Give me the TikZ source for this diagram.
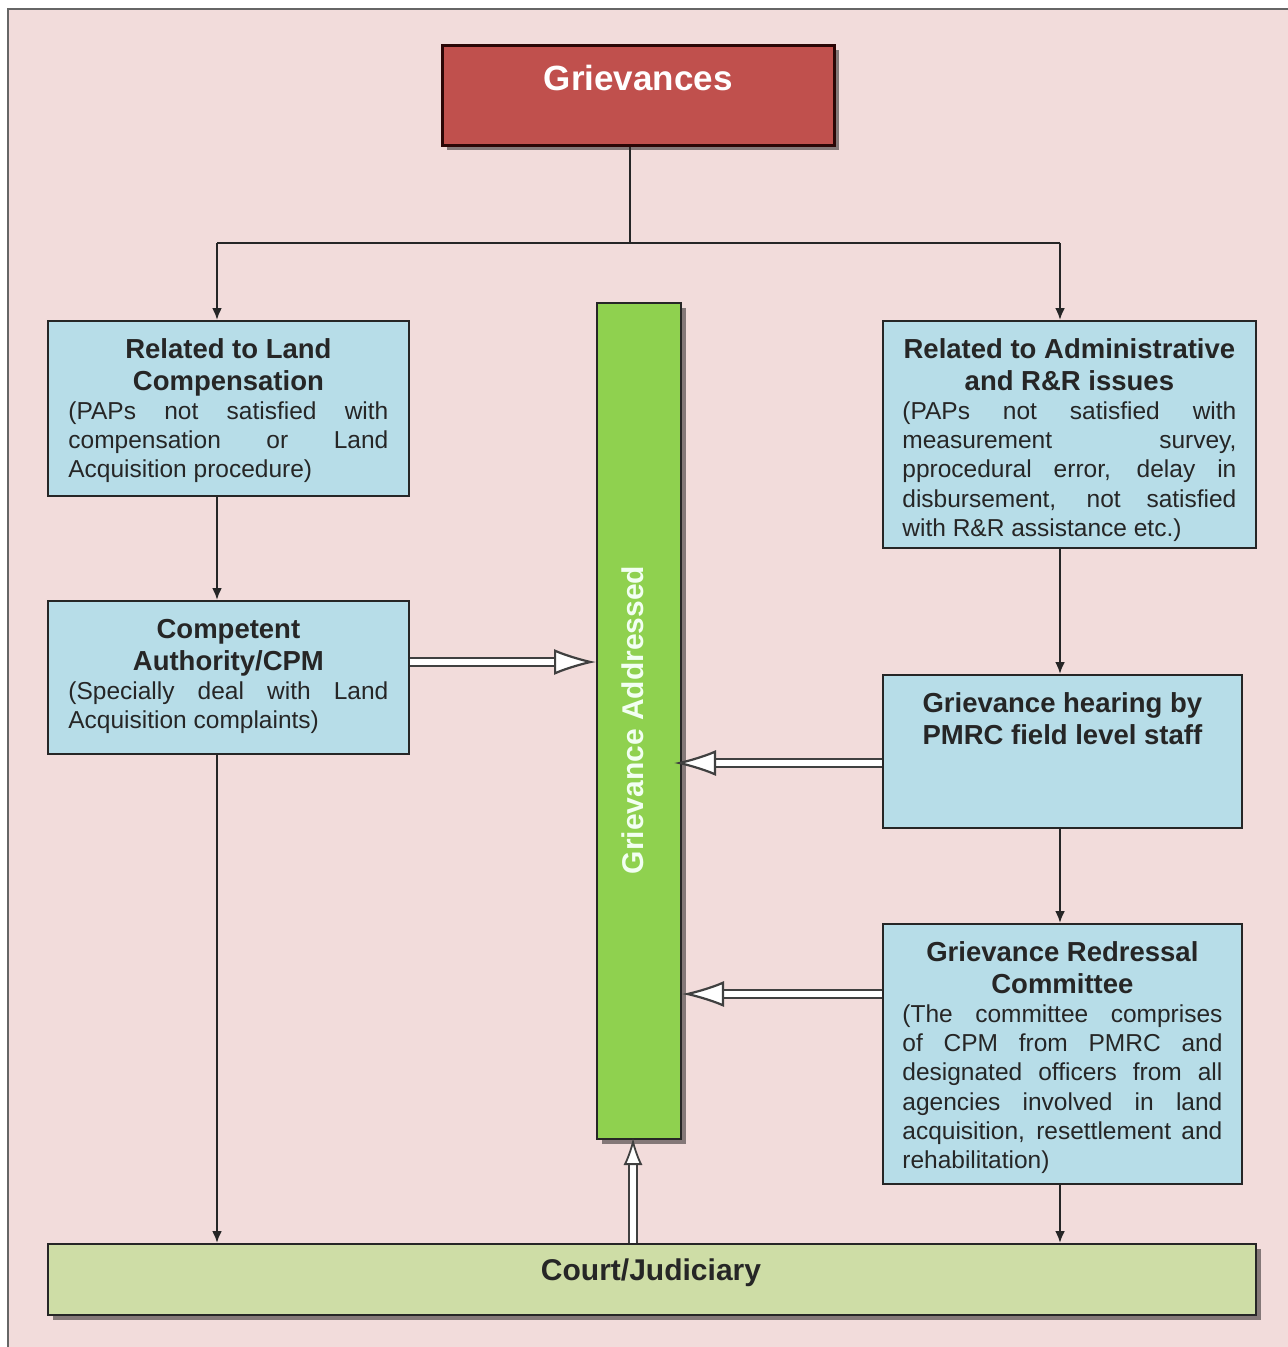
\documentclass[tikz,border=0pt]{standalone}
\usepackage{fontspec}
\setmainfont{Liberation Sans}
\usetikzlibrary{arrows.meta,shadows}
\definecolor{pinkbg}{HTML}{F2DCDB}
\definecolor{redbox}{HTML}{C0504D}
\definecolor{rededge}{HTML}{2A0606}
\definecolor{bluebox}{HTML}{B7DDE8}
\definecolor{greenbar}{HTML}{8FD14F}
\definecolor{courtfill}{HTML}{CEDDA6}
\definecolor{edge}{HTML}{262626}
\newcommand{\boxtitle}{\fontsize{27.5}{32}\selectfont\bfseries}
\newcommand{\boxbody}{\fontsize{24.5}{29.2}\selectfont}
\newcommand{\firstline}{\rule{0pt}{21pt}}
\begin{document}
\begin{tikzpicture}[x=1pt,y=-1pt,
  box/.style={draw=edge, line width=1.8pt, fill=bluebox, anchor=north west, inner sep=0pt},
  txt/.style={anchor=north, inner sep=0pt, align=justify, text=black!85},
  conn/.style={draw=edge, line width=2.3pt, -{Latex[length=12pt,width=10pt]}},
  fat/.style={draw=black!75, line width=2.2pt, double=white, double distance=6pt,
              -{Latex[open, fill=white, length=42pt, width=26pt]}},
  fatv/.style={draw=black!75, line width=1.8pt, double=white, double distance=6pt,
              -{Latex[open, fill=white, length=27pt, width=19pt]}},
  shad/.style={drop shadow={shadow xshift=5pt, shadow yshift=-5pt, fill=black, opacity=0.45}},
]
\useasboundingbox (0,0) rectangle (1288,1347);
\fill[white] (0,0) rectangle (1288,1347);
\draw[fill=pinkbg, draw=black!60, line width=1.5pt] (8,9) rectangle (1300,1360);

% Grievances
\node[draw=rededge, fill=redbox, line width=2.5pt, minimum width=392pt, minimum height=100pt,
      anchor=north west, inner sep=0pt, shad] (griev) at (441,44) {};
\node[anchor=base, inner sep=0pt, text=white, font=\bfseries\fontsize{35}{35}\selectfont]
      (grievt) at ([yshift=-46.5pt]griev.north) {Grievances};

% green bar
\node[draw=edge, fill=greenbar, line width=2pt, minimum width=84pt, minimum height=836pt,
      anchor=north west, inner sep=0pt, shad] (bar) at (596,302) {};
\node[rotate=90, inner sep=0pt, text=white!95!green, font=\bfseries\fontsize{30}{30}\selectfont]
      (bart) at (633,720) {Grievance Addressed};

% left boxes
\node[box, minimum width=361pt, minimum height=175pt] (b1) at (47,320) {};
\node[txt, text width=320pt] (b1t) at ([yshift=-17pt]b1.north) {%
  {\boxtitle\centering\firstline Related to Land\\Compensation\par}
  {\boxbody (PAPs not satisfied with\linebreak compensation or Land\linebreak Acquisition procedure)\par}};

\node[box, minimum width=361pt, minimum height=153pt] (b2) at (47,600) {};
\node[txt, text width=320pt] (b2t) at ([yshift=-17pt]b2.north) {%
  {\boxtitle\centering\firstline Competent\\Authority/CPM\par}
  {\boxbody (Specially deal with Land\linebreak Acquisition complaints)\par}};

% right boxes
\node[box, minimum width=373pt, minimum height=227pt] (r1) at (882,320) {};
\node[txt, text width=334pt] (r1t) at ([yshift=-17pt]r1.north) {%
  {\boxtitle\centering\firstline Related to Administrative\\and R\&R issues\par}
  {\boxbody (PAPs not satisfied with\linebreak measurement survey,\linebreak pprocedural error, delay in\linebreak disbursement, not satisfied\linebreak with R\&R assistance etc.)\par}};

\node[box, minimum width=359pt, minimum height=153pt] (r2) at (882,674) {};
\node[txt, text width=330pt] (r2t) at ([yshift=-17pt]r2.north) {%
  {\boxtitle\centering\firstline Grievance hearing by\\PMRC field level staff\par}};

\node[box, minimum width=359pt, minimum height=260pt] (r3) at (882,923) {};
\node[txt, text width=320pt] (r3t) at ([yshift=-17pt]r3.north) {%
  {\boxtitle\centering\firstline Grievance Redressal\\Committee\par}
  {\boxbody (The committee comprises\linebreak of CPM from PMRC and\linebreak designated officers from all\linebreak agencies involved in land\linebreak acquisition, resettlement and\linebreak rehabilitation)\par}};

% court
\node[box, fill=courtfill, minimum width=1208pt, minimum height=71pt, shad] (court) at (47,1243) {};
\node[inner sep=0pt, text=black!85, font=\bfseries\fontsize{30}{30}\selectfont]
      (courtt) at (651,1273) {Court/Judiciary};

% coordinates
\coordinate (j) at (630,243);
\coordinate (jl) at (217,243);
\coordinate (jr) at (1060,243);
\coordinate (h1) at (0,662);
\coordinate (h2) at (0,763);
\coordinate (h3) at (0,994);
\coordinate (vu) at (633,0);

% thin connectors
\draw[draw=edge, line width=1.3pt] (griev.south -| j) -- (j);
\draw[draw=edge, line width=2.3pt] (jl) -- (jr);
\draw[conn] (jl) -- (jl |- b1.north);
\draw[conn] (jr) -- (jr |- r1.north);
\draw[conn] (jl |- b1.south) -- (jl |- b2.north);
\draw[conn] (jl |- b2.south) -- (jl |- court.north);
\draw[conn] (jr |- r1.south) -- (jr |- r2.north);
\draw[conn] (jr |- r2.south) -- (jr |- r3.north);
\draw[conn] (jr |- r3.south) -- (jr |- court.north);

% fat arrows
\draw[fat] (b2.east |- h1) -- (bar.west |- h1);
\draw[fat] (r2.west |- h2) -- ([xshift=-8pt]bar.east |- h2);
\draw[fat] (r3.west |- h3) -- (bar.east |- h3);
\draw[fatv] (court.north -| vu) -- ([yshift=2pt]bar.south -| vu);
\end{tikzpicture}
\end{document}
